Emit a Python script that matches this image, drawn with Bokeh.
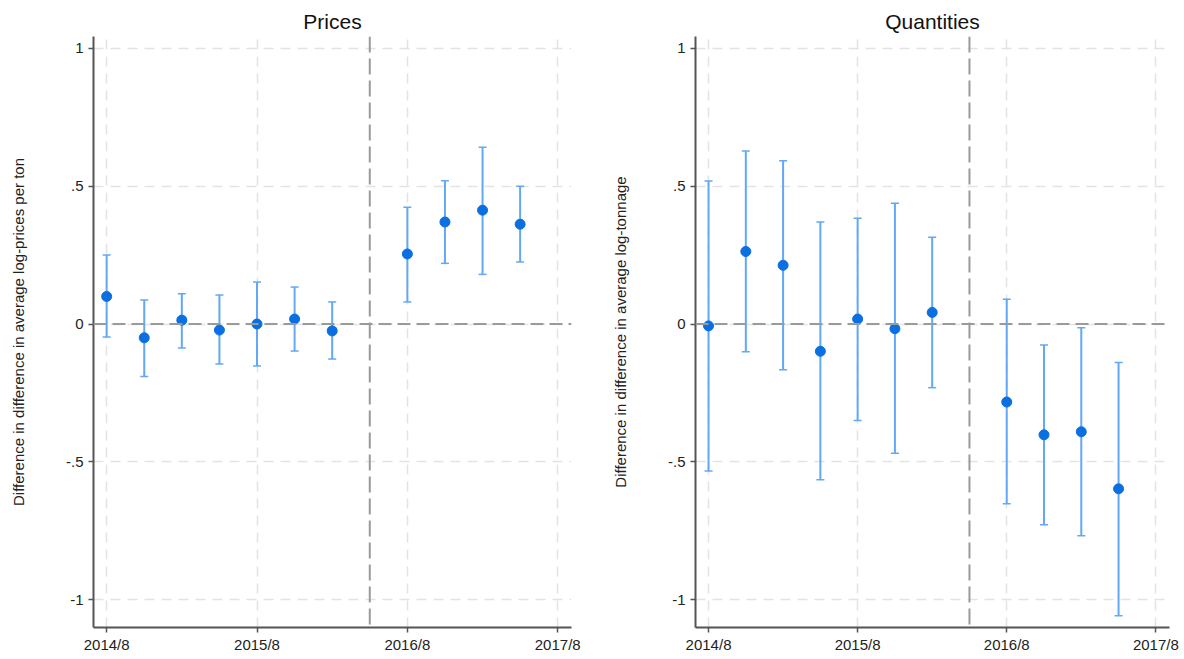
from bokeh.plotting import figure
from bokeh.layouts import row
from bokeh.models import Span, ColumnDataSource, FixedTicker, Range1d
from bokeh.embed import file_html
from bokeh.resources import INLINE

# months since 2014/8
months = [0, 3, 6, 9, 12, 15, 18, 24, 27, 30, 33]
tick_months = [0, 12, 24, 36]
tick_labels = ["2014/8", "2015/8", "2016/8", "2017/8"]
event_month = 21

price_coef = [0.100, -0.050, 0.014, -0.022, 0.000, 0.018, -0.025, 0.254, 0.370, 0.413, 0.362]
price_lo = [-0.047, -0.190, -0.087, -0.145, -0.152, -0.098, -0.127, 0.080, 0.220, 0.180, 0.225]
price_hi = [0.250, 0.087, 0.110, 0.105, 0.152, 0.134, 0.080, 0.424, 0.520, 0.641, 0.500]

qty_coef = [-0.007, 0.263, 0.213, -0.099, 0.018, -0.017, 0.042, -0.283, -0.402, -0.391, -0.598]
qty_lo = [-0.533, -0.101, -0.166, -0.565, -0.350, -0.469, -0.231, -0.652, -0.728, -0.768, -1.058]
qty_hi = [0.519, 0.628, 0.592, 0.370, 0.384, 0.438, 0.315, 0.090, -0.076, -0.014, -0.140]

y_ticks = [-1, -0.5, 0, 0.5, 1]
y_tick_labels = ["-1", "-.5", "0", ".5", "1"]

MARK = "#0a6fe0"
BAR = "#62a8f4"
FONT = "Liberation Sans"


def panel(title, ylabel, coef, lo, hi, width, border_left, border_right):
    p = figure(width=width, height=655, output_backend="svg", toolbar_location=None,
               x_range=Range1d(-1.05, 37.1), y_range=Range1d(-1.101, 1.043),
               min_border_left=border_left, min_border_right=border_right, min_border_top=36,
               min_border_bottom=27)
    p.title.text = title
    p.title.align = "center"
    p.title.text_font = FONT
    p.title.text_font_size = "21px"
    p.title.text_font_style = "normal"
    p.title.text_color = "#111111"
    p.title.standoff = 8
    p.outline_line_color = None

    for ax in (p.xaxis[0], p.yaxis[0]):
        ax.axis_line_color = "#555555"
        ax.axis_line_width = 2
        ax.major_tick_line_color = "#555555"
        ax.major_tick_line_width = 1.5
        ax.major_tick_out = 5
        ax.major_tick_in = 0
        ax.minor_tick_line_color = None
        ax.major_label_text_font = FONT
        ax.major_label_text_font_size = "15px"
        ax.major_label_text_color = "#222222"

    p.xaxis.ticker = FixedTicker(ticks=tick_months)
    p.xaxis.major_label_overrides = {m: l for m, l in zip(tick_months, tick_labels)}
    p.xaxis.major_label_standoff = 3
    p.yaxis.ticker = FixedTicker(ticks=y_ticks)
    p.yaxis.major_label_overrides = {v: l for v, l in zip(y_ticks, y_tick_labels)}
    p.yaxis.major_label_orientation = "horizontal"
    p.yaxis.major_label_standoff = 5
    p.yaxis.axis_label = ylabel
    p.yaxis.axis_label_text_font = FONT
    p.yaxis.axis_label_text_font_size = "15px"
    p.yaxis.axis_label_text_font_style = "normal"
    p.yaxis.axis_label_text_color = "#222222"
    p.yaxis.axis_label_standoff = 36

    for g in (p.xgrid[0], p.ygrid[0]):
        g.grid_line_color = "#e3e3e3"
        g.grid_line_width = 1.5
        g.grid_line_dash = "10 7"

    p.add_layout(Span(location=0, dimension="width", line_color="#9a9a9a",
                      line_width=2, line_dash="13 6"))
    p.add_layout(Span(location=event_month, dimension="height", line_color="#9a9a9a",
                      line_width=2, line_dash="16 6"))

    src = ColumnDataSource(dict(x=months, y=coef, lo=lo, hi=hi))
    p.segment(x0="x", y0="lo", x1="x", y1="hi", source=src, line_color=BAR, line_width=2)
    p.rect(x="x", y="lo", width=8, height=1.5, width_units="screen", height_units="screen",
           source=src, fill_color=BAR, line_color=None)
    p.rect(x="x", y="hi", width=8, height=1.5, width_units="screen", height_units="screen",
           source=src, fill_color=BAR, line_color=None)
    p.scatter(x="x", y="y", source=src, size=10, fill_color=MARK, line_color=MARK)
    return p


p1 = panel("Prices", "Difference in difference in average log-prices per ton",
           price_coef, price_lo, price_hi, 608, 93, 37)
p2 = panel("Quantities", "Difference in difference in average log-tonnage",
           qty_coef, qty_lo, qty_hi, 571, 83, 10)

layout = row(p1, p2)
open("out.html", "w").write(file_html(layout, INLINE))
